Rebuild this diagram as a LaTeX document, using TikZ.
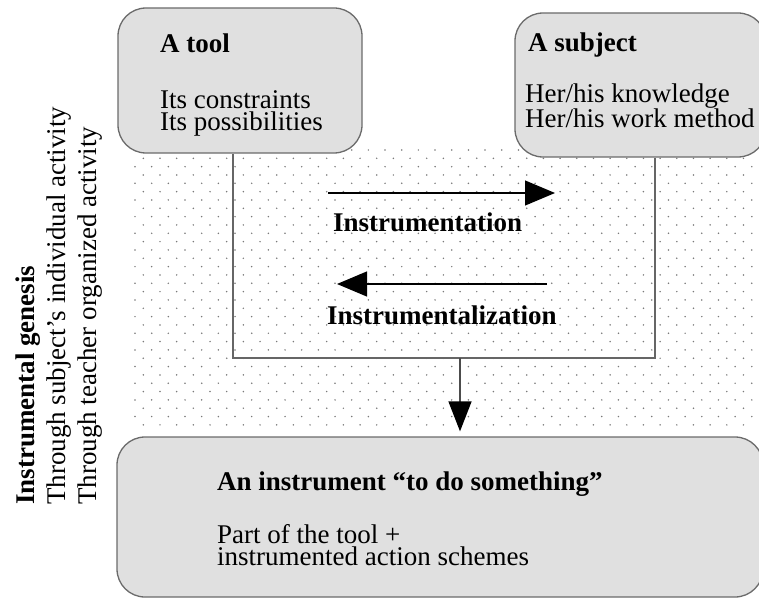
\documentclass[tikz,border=0pt]{standalone}
\usepackage{fontspec}
\setmainfont{Liberation Serif}
\usetikzlibrary{arrows.meta}

\begin{document}
\begin{tikzpicture}[x=1pt,y=-1pt,>={Triangle[length=30pt,width=25pt]},
  box/.style={rectangle,rounded corners=28pt,draw=black!58,line width=1.3pt,fill=black!12},
  boxtext/.style={anchor=base west,inner sep=0pt,align=left,font=\fontsize{27}{22}\selectfont},
  boxtitle/.style={boxtext,font=\fontsize{27}{22}\selectfont\bfseries},
  sidetext/.style={rotate=90,anchor=north west,inner sep=0pt,align=left,font=\fontsize{27}{31}\selectfont},
  frameline/.style={draw=black!60,line width=1.5pt},
  mainarrow/.style={->,line width=1.1pt}]
  \useasboundingbox (0,0) rectangle (759,599);

  % dotted background
  \foreach \r in {0,...,33}
    \foreach \c in {0,...,37}
      \fill[black!52] ({135+16.67*\c+8.33*mod(\r,2)},{150+8.33*\r}) circle (0.85pt);

  \node[box,minimum width=244pt,minimum height=145pt] (toolbox) at (240,80.5) {};
  \node[box,minimum width=251pt,minimum height=144pt] (subjbox) at (640.5,85) {};
  \node[box,minimum width=646pt,minimum height=160pt] (instbox) at (440,517) {};

  % base of a two-line node sits on its last line
  \node[boxtitle] (tooltitle) at (160,53) {A tool};
  \node[boxtext] (toolbody) at (160,130) {Its constraints\\Its possibilities};
  \node[boxtitle] (subjtitle) at (528,52) {A subject};
  \node[boxtext] (subjbody) at (525,128) {Her/his knowledge\\Her/his work method};
  \node[boxtitle] (insttitle) at (217,490) {An instrument ``to do something''};
  \node[boxtext] (instbody) at (217,565) {Part of the tool +\\instrumented action schemes};

  \node[sidetext] (genesis) at (16,505)
    {\textbf{Instrumental genesis}\\Through subject's individual activity\\Through teacher organized activity};

  % frame between tool and subject
  \coordinate (fl) at (233,358);
  \coordinate (fr) at (655,358);
  \coordinate (fm) at (460,358);
  \path[frameline] (fl |- toolbox.south) -- (fl) -- (fr) -- (fr |- subjbox.south);

  \coordinate (ina) at (328,193);
  \coordinate (inb) at (555,193);
  \coordinate (ila) at (547,284);
  \coordinate (ilb) at (337,284);

  \draw[mainarrow] (ina) -- (inb);
  \draw[mainarrow] (ila) -- (ilb);
  \draw[mainarrow,-{Triangle[length=30pt,width=23pt,black]},draw=black!70,line width=1.5pt,shorten >=5pt] (fm) -- (instbox.north -| fm);

  \node[boxtitle] (instrumentation) at (333,231) {Instrumentation};
  \node[boxtitle] (instrumentalization) at (327,324) {Instrumentalization};
\end{tikzpicture}
\end{document}
